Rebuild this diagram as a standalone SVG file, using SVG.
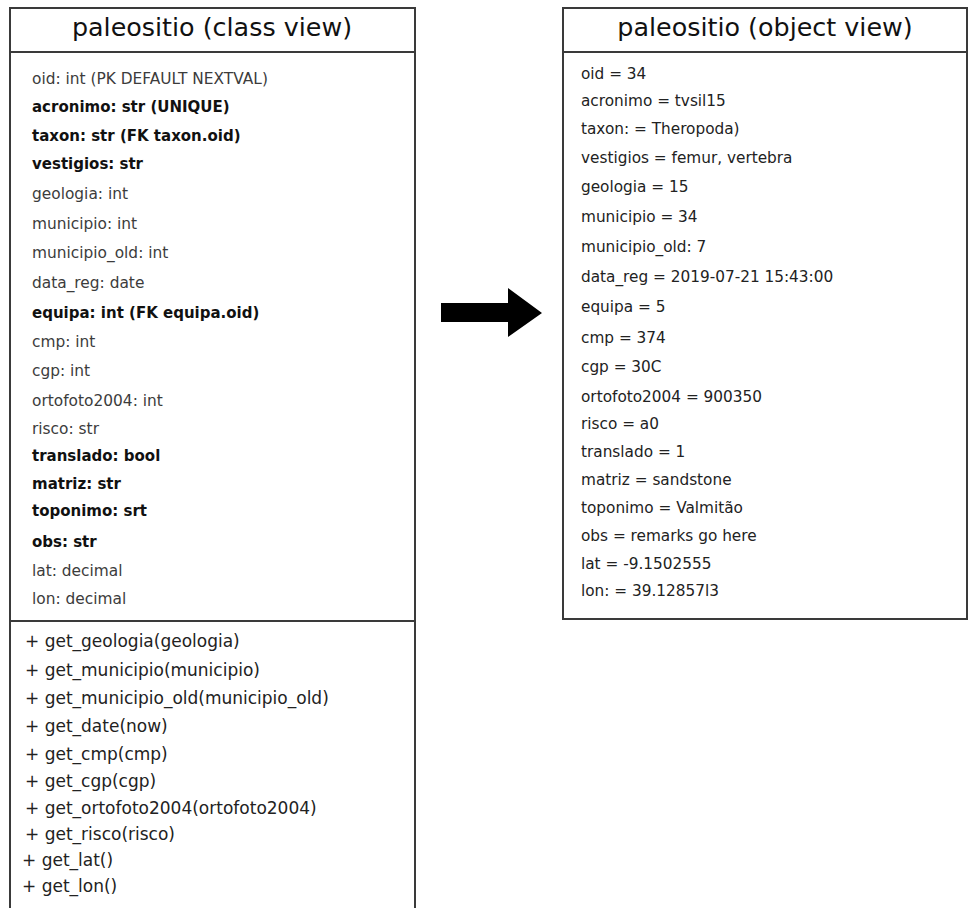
<svg xmlns="http://www.w3.org/2000/svg" width="968" height="908" viewBox="0 0 968 908">
<style>
.box{fill:#fff;stroke:#3a3a3a;stroke-width:2}
.sep{stroke:#3a3a3a;stroke-width:2}
.title{font-family:"DejaVu Sans",Verdana,sans-serif;font-size:25.4px;fill:#111;text-anchor:middle}
.a{font-family:"DejaVu Sans",Verdana,sans-serif;font-size:15.4px;fill:#3c3c3c}
.b{font-family:"DejaVu Sans",Verdana,sans-serif;font-size:15px;font-weight:bold;fill:#111}
.m{font-family:"DejaVu Sans",Verdana,sans-serif;font-size:17px;fill:#222}
.o{font-family:"DejaVu Sans",Verdana,sans-serif;font-size:15.3px;fill:#222}
</style>
<g id="class-view">
<rect class="box" x="10" y="8" width="405" height="920"/>
<line class="sep" x1="10" y1="52" x2="415" y2="52"/>
<line class="sep" x1="10" y1="621" x2="415" y2="621"/>
<text class="title" x="212" y="36">paleositio (class view)</text>
<text class="a" x="32" y="84">oid: int (PK DEFAULT NEXTVAL)</text>
<text class="b" x="32" y="112">acronimo: str (UNIQUE)</text>
<text class="b" x="32" y="141">taxon: str (FK taxon.oid)</text>
<text class="b" x="32" y="169">vestigios: str</text>
<text class="a" x="32" y="199">geologia: int</text>
<text class="a" x="32" y="229">municipio: int</text>
<text class="a" x="32" y="258">municipio_old: int</text>
<text class="a" x="32" y="288">data_reg: date</text>
<text class="b" x="32" y="318">equipa: int (FK equipa.oid)</text>
<text class="a" x="32" y="347">cmp: int</text>
<text class="a" x="32" y="376">cgp: int</text>
<text class="a" x="32" y="406">ortofoto2004: int</text>
<text class="a" x="32" y="434">risco: str</text>
<text class="b" x="32" y="461">translado: bool</text>
<text class="b" x="32" y="489">matriz: str</text>
<text class="b" x="32" y="516">toponimo: srt</text>
<text class="b" x="32" y="547">obs: str</text>
<text class="a" x="32" y="576">lat: decimal</text>
<text class="a" x="32" y="604">lon: decimal</text>
<text class="m" x="25" y="647">+ get_geologia(geologia)</text>
<text class="m" x="25" y="676">+ get_municipio(municipio)</text>
<text class="m" x="25" y="704">+ get_municipio_old(municipio_old)</text>
<text class="m" x="25" y="732">+ get_date(now)</text>
<text class="m" x="25" y="760">+ get_cmp(cmp)</text>
<text class="m" x="25" y="787">+ get_cgp(cgp)</text>
<text class="m" x="25" y="814">+ get_ortofoto2004(ortofoto2004)</text>
<text class="m" x="25" y="840">+ get_risco(risco)</text>
<text class="m" x="22" y="866">+ get_lat()</text>
<text class="m" x="22" y="892">+ get_lon()</text>
</g>
<g id="object-view">
<rect class="box" x="563" y="8" width="404" height="611"/>
<line class="sep" x1="563" y1="52" x2="967" y2="52"/>
<text class="title" x="765" y="36">paleositio (object view)</text>
<text class="o" x="581" y="79">oid = 34</text>
<text class="o" x="581" y="106">acronimo = tvsil15</text>
<text class="o" x="581" y="134">taxon: = Theropoda)</text>
<text class="o" x="581" y="163">vestigios = femur, vertebra</text>
<text class="o" x="581" y="192">geologia = 15</text>
<text class="o" x="581" y="222">municipio = 34</text>
<text class="o" x="581" y="252">municipio_old: 7</text>
<text class="o" x="581" y="282">data_reg = 2019-07-21 15:43:00</text>
<text class="o" x="581" y="312">equipa = 5</text>
<text class="o" x="581" y="343">cmp = 374</text>
<text class="o" x="581" y="372">cgp = 30C</text>
<text class="o" x="581" y="402">ortofoto2004 = 900350</text>
<text class="o" x="581" y="429">risco = a0</text>
<text class="o" x="581" y="457">translado = 1</text>
<text class="o" x="581" y="485">matriz = sandstone</text>
<text class="o" x="581" y="513">toponimo = Valmitão</text>
<text class="o" x="581" y="541">obs = remarks go here</text>
<text class="o" x="581" y="569">lat = -9.1502555</text>
<text class="o" x="581" y="596">lon: = 39.12857l3</text>
</g>
<g id="connectors">
<polygon points="441,303 508,303 508,288 542,313 508,337 508,322 441,322" fill="#000"/>
</g>
</svg>
